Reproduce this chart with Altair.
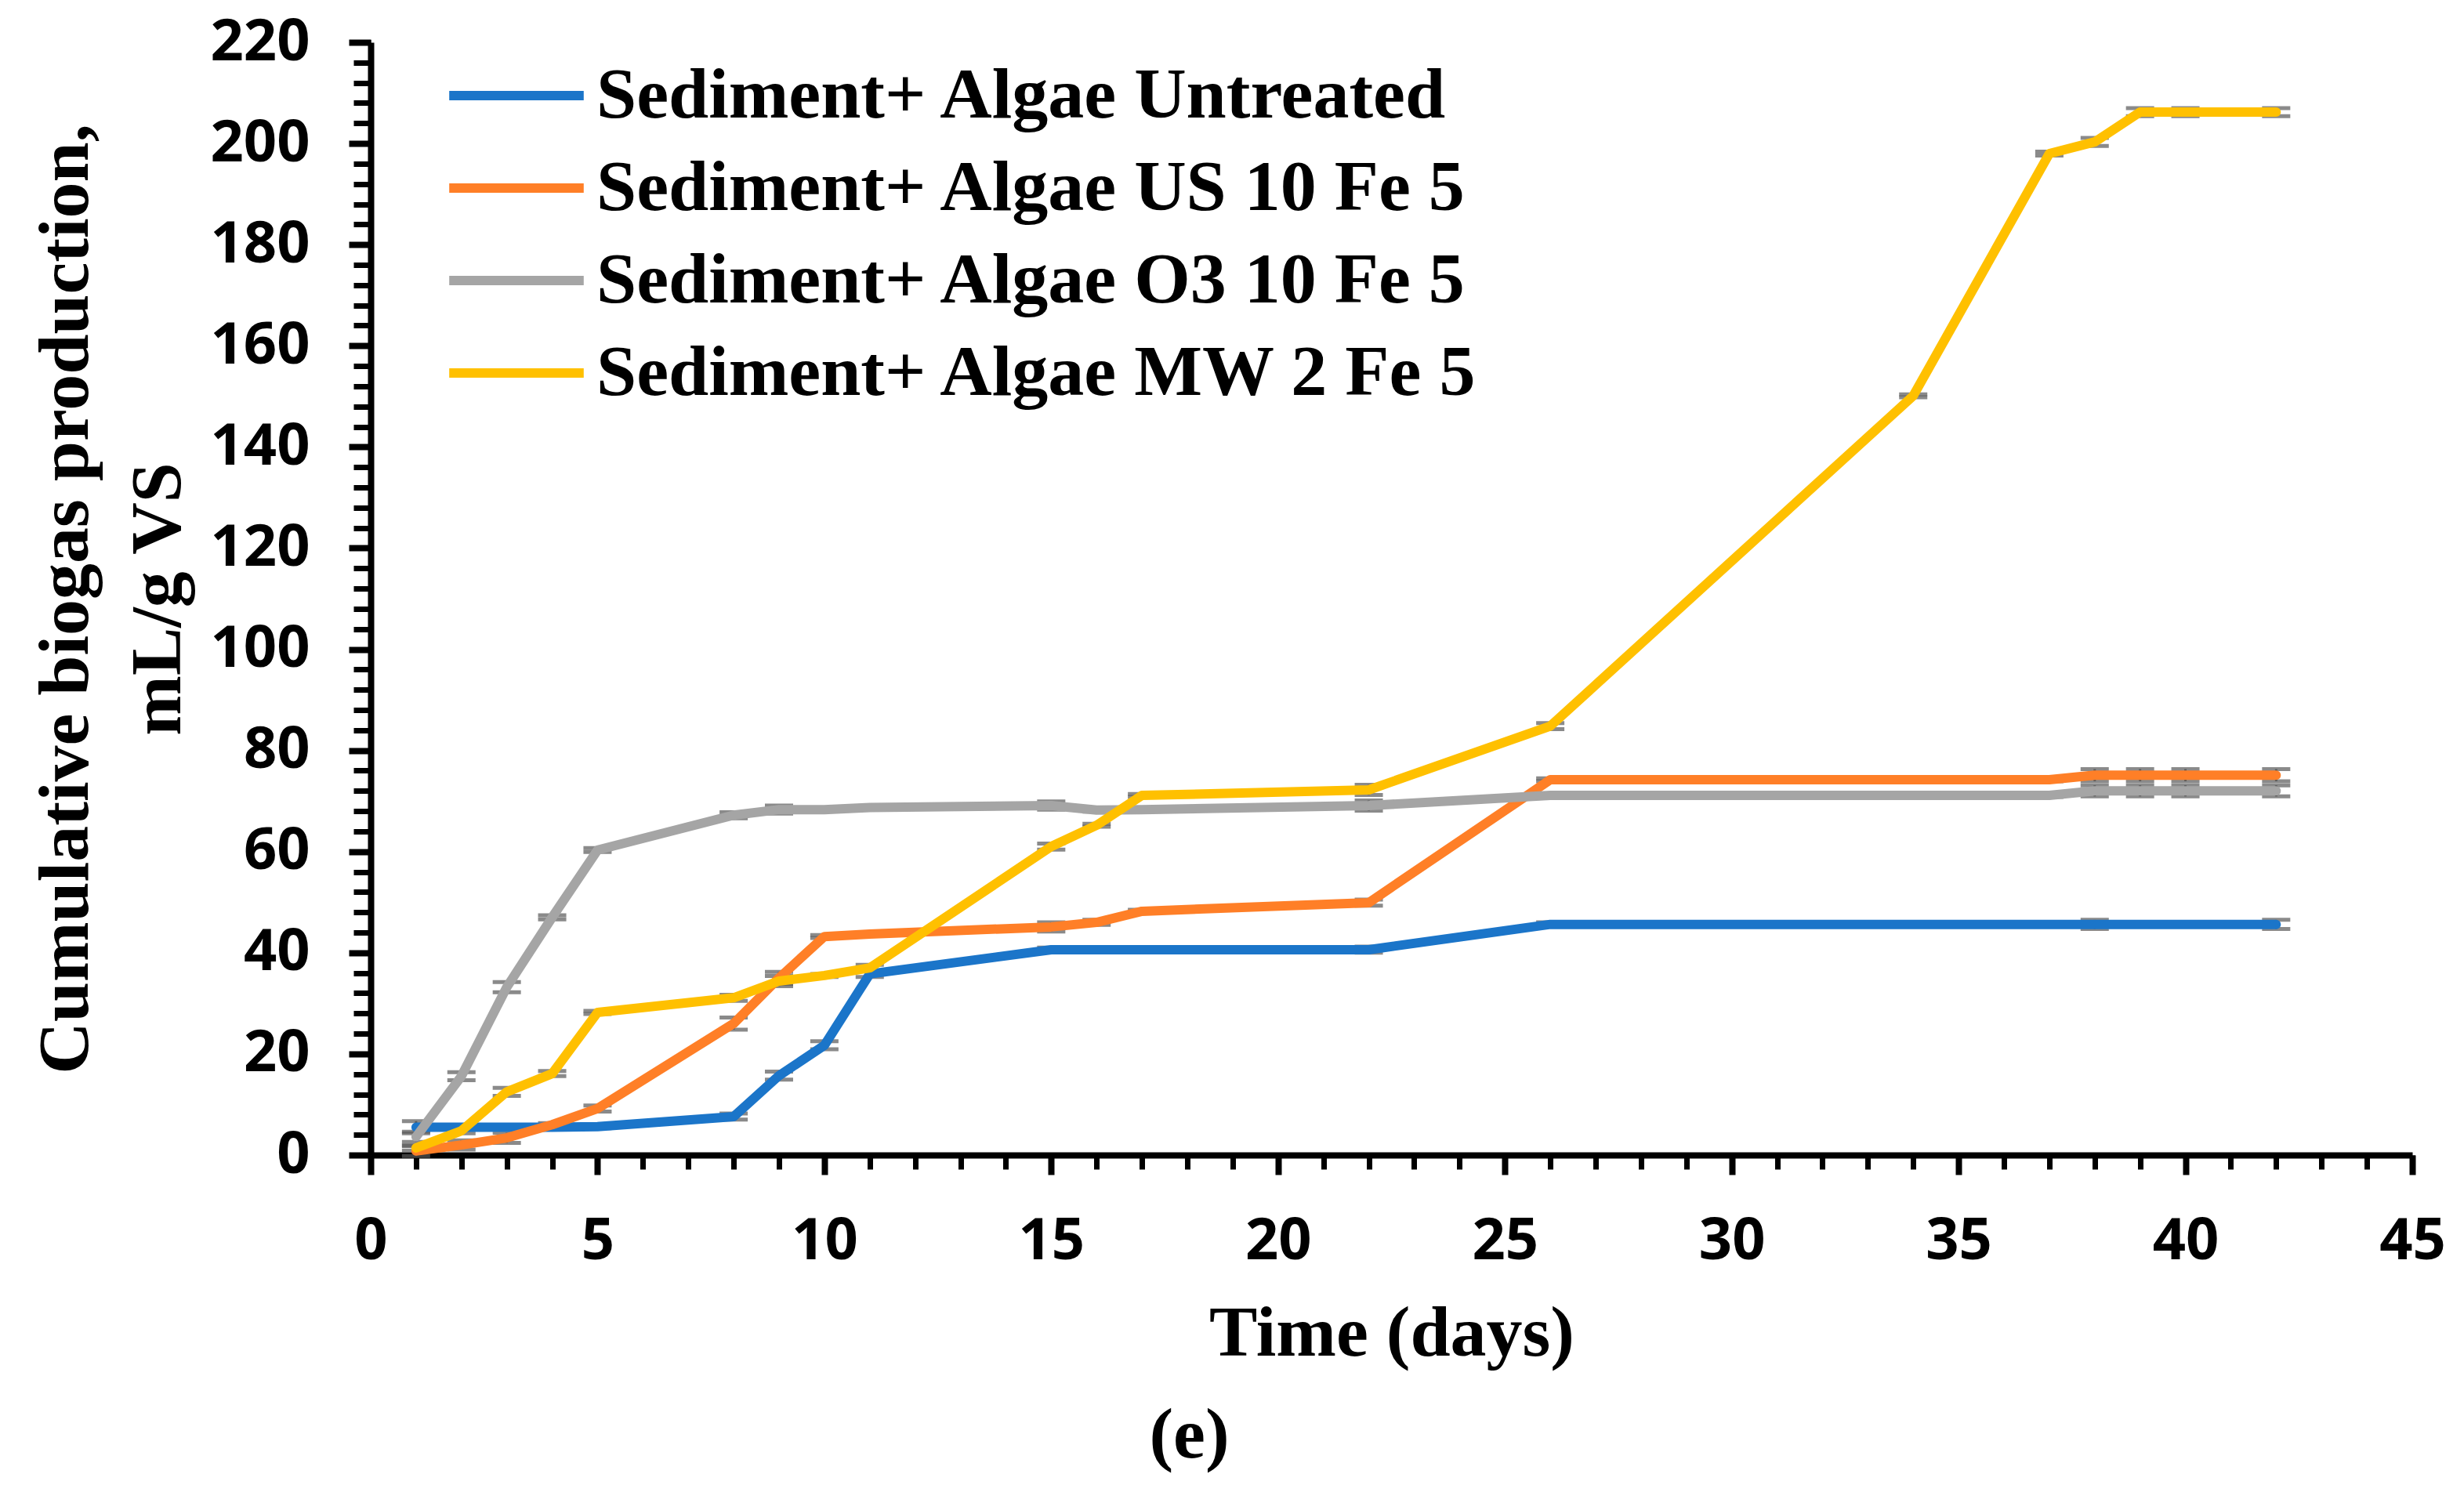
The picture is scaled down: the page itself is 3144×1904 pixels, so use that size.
import altair as alt
import pandas as pd

days = [1, 2, 3, 4, 5, 8, 9, 10, 11, 15, 16, 17, 22, 26, 34, 37, 38, 39, 40, 42]

series_names = [
    "Sediment+ Algae Untreated",
    "Sediment+ Algae US 10 Fe 5",
    "Sediment+ Algae O3 10 Fe 5",
    "Sediment+ Algae MW 2 Fe 5",
]
series_colors = ["#1B75C9", "#FF7F27", "#A5A5A5", "#FFC000"]

untreated = [5.5, 5.5, 5.5, 5.5, 5.6, 7.6, 15.7, 21.7, 35.8, 40.6, 40.6, 40.6, 40.6, 45.6, 45.6, 45.6, 45.6, 45.6, 45.6, 45.6]
us10fe5 = [0.8, 2.0, 3.4, 6.0, 9.2, 26.0, 35.0, 43.2, 43.7, 45.1, 46.0, 48.2, 49.9, 74.2, 74.2, 74.2, 75.1, 75.1, 75.1, 75.1]
o310fe5 = [3.6, 15.6, 33.2, 47.0, 60.3, 67.2, 68.3, 68.3, 68.7, 69.1, 68.2, 68.3, 69.1, 71.1, 71.1, 71.1, 72.0, 72.0, 72.0, 72.0]
mw2fe5 = [1.4, 4.8, 12.5, 16.1, 28.2, 31.1, 34.4, 35.5, 37.0, 61.0, 65.2, 71.1, 72.2, 84.8, 150.1, 198.0, 200.3, 206.2, 206.2, 206.2]

untreated_err = [1.2, 0.3, 0.3, 0.3, 0.3, 0.6, 0.8, 0.8, 0.6, 0.4, 0.3, 0.3, 0.6, 0.4, 0.3, 0.3, 0.9, 0.4, 0.4, 0.9]
us10fe5_err = [1.0, 0.9, 1.0, 0.3, 0.6, 1.2, 1.2, 0.3, 0.3, 0.9, 0.5, 0.3, 0.6, 0.3, 0.3, 0.3, 1.2, 1.2, 1.2, 1.2]
o310fe5_err = [1.0, 0.8, 1.0, 0.4, 0.4, 0.6, 0.8, 0.3, 0.3, 0.8, 0.3, 0.3, 1.0, 0.3, 0.3, 0.3, 1.1, 1.1, 1.1, 1.1]
mw2fe5_err = [0.5, 0.5, 0.8, 0.5, 0.3, 0.6, 1.0, 0.3, 0.6, 0.6, 0.3, 0.3, 1.0, 0.6, 0.3, 0.4, 0.8, 0.8, 0.8, 0.8]

x_major_ticks = [0, 5, 10, 15, 20, 25, 30, 35, 40, 45]
x_minor_ticks = list(range(0, 46))
y_major_ticks = [0, 20, 40, 60, 80, 100, 120, 140, 160, 180, 200, 220]
y_minor_ticks = list(range(0, 221, 4))

rows = []
for name, vals, errs in zip(series_names,
                            [untreated, us10fe5, o310fe5, mw2fe5],
                            [untreated_err, us10fe5_err, o310fe5_err, mw2fe5_err]):
    for i, (d, v, e) in enumerate(zip(days, vals, errs)):
        rows.append({"day": d, "value": v, "low": v - e, "high": v + e,
                     "series": name, "order": i})
df = pd.DataFrame(rows)

SERIF = "Liberation Serif"
SANS = "Open Sans"

xscale = alt.Scale(domain=[0, 45], nice=False, zero=False)
yscale = alt.Scale(domain=[0, 220], nice=False, zero=False)
color = alt.Color(
    "series:N",
    scale=alt.Scale(domain=series_names, range=series_colors),
    sort=series_names,
    legend=alt.Legend(
        orient="none", legendX=114, legendY=-4, title=None,
        symbolType="M-1.3,0L1.3,0", symbolSize=17424, symbolStrokeWidth=12,
        labelFont=SERIF, labelFontSize=92, labelFontWeight="bold",
        labelColor="black", labelOffset=30, labelLimit=0,
        rowPadding=0, padding=0, symbolOffset=0,
    ),
)

base = alt.Chart(df)

minor = base.mark_line(opacity=0).encode(
    x=alt.X("day:Q", scale=xscale, axis=alt.Axis(
        orient="bottom", values=x_minor_ticks, labels=False, title=None,
        domain=False, grid=False, tickSize=18, tickWidth=7, tickColor="black")),
    y=alt.Y("value:Q", scale=yscale, axis=alt.Axis(
        orient="left", values=y_minor_ticks, labels=False, title=None,
        domain=False, grid=False, tickSize=22, tickWidth=7, tickColor="black")),
    detail="series:N",
)

err_rule = base.mark_rule(color="#595959", strokeWidth=3).encode(
    x=alt.X("day:Q", scale=xscale, axis=None),
    y=alt.Y("low:Q", scale=yscale, axis=None),
    y2="high:Q",
)
cap_low = base.mark_tick(color="#595959", orient="horizontal", size=36, thickness=5).encode(
    x=alt.X("day:Q", scale=xscale, axis=None),
    y=alt.Y("low:Q", scale=yscale, axis=None),
)
cap_high = base.mark_tick(color="#595959", orient="horizontal", size=36, thickness=5).encode(
    x=alt.X("day:Q", scale=xscale, axis=None),
    y=alt.Y("high:Q", scale=yscale, axis=None),
)

lines = base.mark_line(strokeWidth=12, strokeCap="round", strokeJoin="round").encode(
    x=alt.X("day:Q", scale=xscale, axis=alt.Axis(
        orient="bottom", values=x_major_ticks, title="Time (days)", grid=False,
        domainWidth=8, domainColor="black", tickSize=25, tickWidth=8, tickColor="black",
        labelFont=SANS, labelFontSize=74, labelFontWeight="bold", labelColor="black",
        labelPadding=49, titleFont=SERIF, titleFontSize=92, titleFontWeight="bold",
        titleColor="black", titlePadding=35, labelFlush=False)),
    y=alt.Y("value:Q", scale=yscale, axis=alt.Axis(
        orient="left", values=y_major_ticks,
        title=["Cumulative biogas production,", "mL/g VS"], grid=False,
        domainWidth=8, domainColor="black", tickSize=28, tickWidth=8, tickColor="black",
        labelFont=SANS, labelFontSize=74, labelFontWeight="bold", labelColor="black",
        labelPadding=50, titleFont=SERIF, titleFontSize=92, titleFontWeight="bold",
        titleColor="black", titlePadding=25, titleLineHeight=118, labelFlush=False)),
    color=color,
    order="order:Q",
)

chart = alt.layer(minor, err_rule, cap_low, cap_high, lines).resolve_axis(
    x="independent", y="independent"
).properties(
    width=2605,
    height=1420,
    autosize=alt.AutoSizeParams(type="none"),
    padding={"left": 473, "top": 54, "right": 66, "bottom": 430},
    title=alt.TitleParams(
        text="(e)", orient="bottom", anchor="middle", dx=-258, offset=40,
        font=SERIF, fontSize=92, fontWeight="bold", color="black"),
    background="white",
).configure_view(stroke=None)

chart.save("out.html", embed_options={"renderer": "svg", "actions": False})
